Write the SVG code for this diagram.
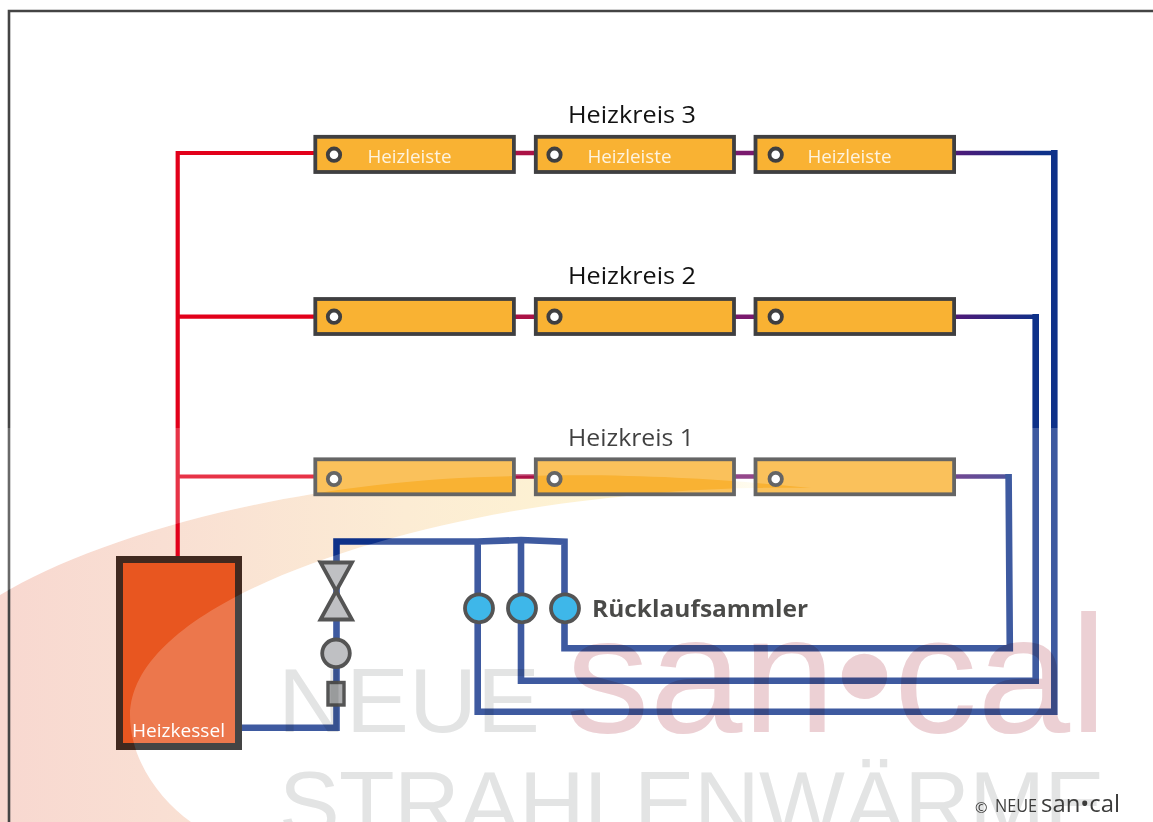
<svg xmlns="http://www.w3.org/2000/svg" width="1153" height="822" viewBox="0 0 1153 822">
<style>
.bar{fill:#f9b233;stroke:#3f3f41;stroke-width:3.8}
.dot{fill:#fff;stroke:#3f3f41;stroke-width:3.8}
.bar1{fill:#f9b233}
.dot1{fill:#fff}
.edge{fill:none;stroke:#656565;stroke-width:3.8}
.t{font-family:"Open Sans","Noto Sans",sans-serif}
.lbl{font-size:18px;fill:#fdf3e0}
.hk{font-size:24px;fill:#111}
.hot{fill:none;stroke:#e2001a;stroke-width:4.2}
.ret{fill:none;stroke:#0e3189;stroke-width:6.6}
.sw{fill:#0ea5e4;stroke:#2a2a2a;stroke-width:3.8}
.vl{fill:#b0b1b4;stroke:#2a2a2a;stroke-width:3.8}
.wm{font-family:"Liberation Sans",Arial,sans-serif;mix-blend-mode:multiply}
</style>
<defs>
<linearGradient id="sg" gradientUnits="userSpaceOnUse" x1="0" y1="0" x2="811" y2="0">
<stop offset="0" stop-color="#f8d8d0"/><stop offset=".2" stop-color="#f9dfd3"/><stop offset=".5" stop-color="#fcecd4"/><stop offset=".8" stop-color="#fef5d2"/><stop offset="1" stop-color="#fff"/>
</linearGradient>
<linearGradient id="out" gradientUnits="userSpaceOnUse" x1="955" y1="0" x2="1040" y2="0">
<stop offset="0" stop-color="#4f1a78"/><stop offset="1" stop-color="#0e3189"/>
</linearGradient>
<clipPath id="swc"><path d="M0 595C100 535 300 478 520 476C640 473 730 480 811 488C720 486 650 493 600 499C400 520 132 600 130 715C130 760 160 800 191 822L0 822Z"/></clipPath>
</defs>
<rect width="1153" height="822" fill="#fff"/>
<path id="swoosh" fill="url(#sg)" d="M0 595C100 535 300 478 520 476C640 473 730 480 811 488C720 486 650 493 600 499C400 520 132 600 130 715C130 760 160 800 191 822L0 822Z"/>
<path id="frame" d="M9 822V11H1153" fill="none" stroke="#444" stroke-width="2.600"/>
<g id="connectors">
<path class="hot" d="M177.700 556V153H314"/>
<path class="hot" d="M177.700 316.700H314"/>
<path class="hot" d="M177.700 476.500H314"/>
<path d="M515 153H534M515 316.700H534M515 476.500H534" fill="none" stroke="#ab1246" stroke-width="4.600"/>
<path d="M735 153H754M735 316.700H754M735 476.500H754" fill="none" stroke="#7a1a6e" stroke-width="4.600"/>
<path d="M955 153H1052" fill="none" stroke="url(#out)" stroke-width="4.600"/>
<path d="M955 316.800H1034" fill="none" stroke="url(#out)" stroke-width="4.600"/>
<path d="M955 476.500H1007" fill="none" stroke="url(#out)" stroke-width="4.600"/>
<path class="ret" d="M1054.300 150V711.700H477.700V608"/>
<path class="ret" d="M1035.700 314V680.700H521V608"/>
<path class="ret" d="M1008.600 474L1009.800 648.300H564.500V608"/>
<path class="ret" d="M477.700 608V541.500M521 608V540M564.500 608V541.700L521 540L477.700 541.500H336.500V727.700H240"/>
</g>
<g id="k3b1"><rect class="bar" x="315.300" y="136.800" width="198.600" height="35.200"/><circle class="dot" cx="334" cy="154.700" r="6.200"/><text class="t lbl" x="367.500" y="163" textLength="84" lengthAdjust="spacingAndGlyphs">Heizleiste</text></g>
<g id="k3b2"><rect class="bar" x="535.800" y="136.800" width="198.200" height="35.200"/><circle class="dot" cx="554.500" cy="154.700" r="6.200"/><text class="t lbl" x="587.500" y="163" textLength="84" lengthAdjust="spacingAndGlyphs">Heizleiste</text></g>
<g id="k3b3"><rect class="bar" x="755.500" y="136.800" width="198.600" height="35.200"/><circle class="dot" cx="775.700" cy="154.700" r="6.200"/><text class="t lbl" x="807.500" y="163" textLength="84" lengthAdjust="spacingAndGlyphs">Heizleiste</text></g>
<g id="k2b1"><rect class="bar" x="315.300" y="299" width="198.600" height="35"/><circle class="dot" cx="334" cy="316.700" r="6.200"/></g>
<g id="k2b2"><rect class="bar" x="535.800" y="299" width="198.200" height="35"/><circle class="dot" cx="554.500" cy="316.700" r="6.200"/></g>
<g id="k2b3"><rect class="bar" x="755.500" y="299" width="198.600" height="35"/><circle class="dot" cx="775.700" cy="316.700" r="6.200"/></g>
<g id="k1b1"><rect class="bar1" x="315.300" y="459.300" width="198.600" height="35"/><circle class="dot1" cx="334" cy="479" r="6.200"/></g>
<g id="k1b2"><rect class="bar1" x="535.800" y="459.300" width="198.200" height="35"/><circle class="dot1" cx="554.500" cy="479" r="6.200"/></g>
<g id="k1b3"><rect class="bar1" x="755.500" y="459.300" width="198.600" height="35"/><circle class="dot1" cx="775.700" cy="479" r="6.200"/></g>
<text class="t hk" x="568" y="123" textLength="128" lengthAdjust="spacingAndGlyphs">Heizkreis 3</text>
<text class="t hk" x="568" y="284" textLength="128" lengthAdjust="spacingAndGlyphs">Heizkreis 2</text>
<text class="t hk" x="568" y="446" textLength="126" lengthAdjust="spacingAndGlyphs">Heizkreis 1</text>
<g id="kessel"><rect x="119.500" y="559.500" width="119" height="187" fill="#e85620"/><text class="t" x="132" y="737" font-size="19" fill="#fff" textLength="93" lengthAdjust="spacingAndGlyphs">Heizkessel</text></g>
<g id="ventil"><path class="vl" d="M320.500 562.500H352L336.200 591ZM336.200 591L352 619.500H320.500Z"/></g>
<g id="pumpe"><circle class="vl" cx="336" cy="653.300" r="13.800"/></g>
<g id="filter"><rect x="328" y="682.500" width="16" height="22.500" fill="#98999b" stroke="#2a2a2a" stroke-width="3.400"/></g>
<g id="s1"><circle class="sw" cx="479" cy="608.300" r="14"/></g>
<g id="s2"><circle class="sw" cx="522" cy="608.300" r="14"/></g>
<g id="s3"><circle class="sw" cx="565" cy="608.300" r="14"/></g>
<text class="t" x="592" y="617" font-size="24" font-weight="700" fill="#1d1d1b" textLength="216" lengthAdjust="spacingAndGlyphs">Rücklaufsammler</text>
<path id="veil" fill="#fff" fill-opacity=".2" fill-rule="evenodd" d="M0 428H1153V822H0ZM0 595C100 535 300 478 520 476C640 473 730 480 811 488C720 486 650 493 600 499C400 520 132 600 130 715C130 760 160 800 191 822L0 822Z"/>
<g id="row1edges">
<rect class="edge" x="315.300" y="459.300" width="198.600" height="35"/><circle class="edge" cx="334" cy="479" r="6.200"/>
<rect class="edge" x="535.800" y="459.300" width="198.200" height="35"/><circle class="edge" cx="554.500" cy="479" r="6.200"/>
<rect class="edge" x="755.500" y="459.300" width="198.600" height="35"/><circle class="edge" cx="775.700" cy="479" r="6.200"/>
</g>
<g id="kesselrand" fill="none" stroke-width="7">
<rect x="119.500" y="559.500" width="119" height="187" stroke="#444"/>
<rect x="119.500" y="559.500" width="119" height="187" stroke="#41291f" clip-path="url(#swc)"/>
</g>
<g id="watermark">
<text class="wm" x="278" y="732" font-size="90" fill="#e3e4e4" textLength="262" lengthAdjust="spacingAndGlyphs">NEUE</text>
<text class="wm" x="279" y="835" font-size="91" fill="#e3e4e4" textLength="826">STRAHLENWÄRME</text>
<text class="wm" x="566" y="732" font-size="167" fill="#ecd0d4">san•cal</text>
</g>
<g id="copyright" fill="#3c3c3b">
<text class="t" x="975" y="813" font-size="15">©</text>
<text class="t" x="995" y="812" font-size="17.500" textLength="42" lengthAdjust="spacingAndGlyphs">NEUE</text>
<text class="t" x="1041" y="812" font-size="24" textLength="79" lengthAdjust="spacingAndGlyphs">san•cal</text>
</g>
</svg>
